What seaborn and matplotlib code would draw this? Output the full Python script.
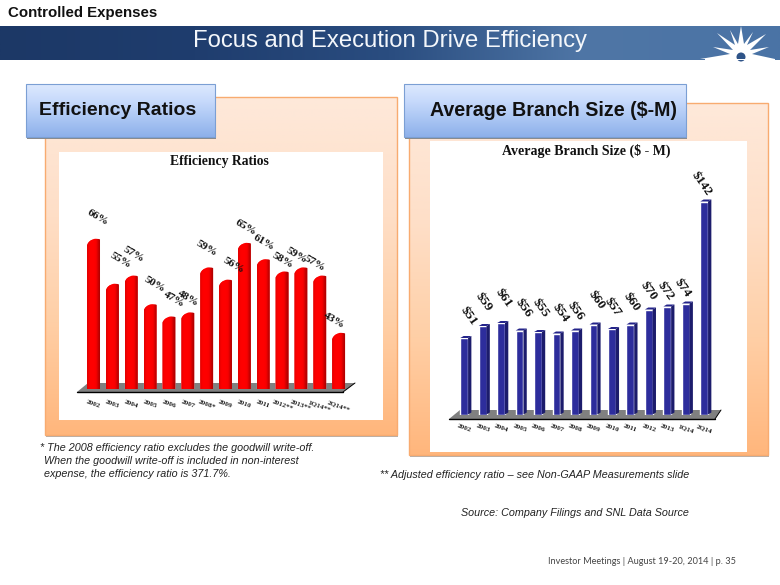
import numpy as np
import pandas as pd
import matplotlib
matplotlib.use("Agg")
import matplotlib.pyplot as plt
import seaborn as sns
from matplotlib.path import Path
from matplotlib.patches import Polygon, Rectangle, Circle

eff_years = ["2002", "2003", "2004", "2005", "2006", "2007", "2008*", "2009", "2010", "2011",
             "2012**", "2013**", "1Q14**", "2Q14**"]
eff_values = [66, 55, 57, 50, 47, 48, 59, 56, 65, 61, 58, 59, 57, 43]
branch_years = ["2002", "2003", "2004", "2005", "2006", "2007", "2008", "2009", "2010", "2011",
                "2012", "2013", "1Q14", "2Q14"]
branch_values = [51, 59, 61, 56, 55, 54, 56, 60, 57, 60, 70, 72, 74, 142]

# label nudges in pixels, relative to the top of each bar
eff_dx = [4, 8, 2, 5, 5, 0, 0, 8, 1, 1, 1, -4, -5, -5]
eff_dy = [21, 23, 21, 20, 17, 14, 19, 14, 15, 17, 11, 12, 12, 12]
br_dx = [4, 1, 2, 4, 3, 4, 1, 3, 1, 1, 0, -2, -3, -3]
br_dy = [22, 24, 25, 23, 24, 21, 20, 25, 22, 23, 19, 16, 16, 18]

W, H = 780, 585
sns.set_theme(style="white")
plt.rcParams["font.family"] = ["Liberation Sans", "DejaVu Sans"]
fig = plt.figure(figsize=(W / 100, H / 100), dpi=100, facecolor="white")

bg = fig.add_axes([0, 0, 1, 1], zorder=0)
bg.set_xlim(0, W)
bg.set_ylim(H, 0)
bg.axis("off")


def grad(ax, x0, y0, x1, y1, stops, horizontal=False, zorder=1):
    n = 200
    t = np.linspace(0, 1, n)
    cols = np.array([matplotlib.colors.to_rgb(c) for c in stops])
    pos = np.linspace(0, 1, len(stops))
    arr = np.stack([np.interp(t, pos, cols[:, k]) for k in range(3)], axis=-1)
    arr = arr[None, :, :] if horizontal else arr[:, None, :]
    ax.imshow(arr, extent=[x0, x1, y1, y0], aspect="auto", zorder=zorder, interpolation="bilinear")


# banner
grad(bg, 0, 26, W, 60, ["#1c3866", "#1f3d6e", "#2a4d80", "#4f76a6", "#4a73a5"], horizontal=True)
bg.add_patch(Polygon([(713, 47), (733, 50), (717, 33), (735, 45), (730, 30), (738, 44), (741, 26),
                      (744, 44), (753, 32), (747, 45), (766, 34), (750, 50), (769, 47), (752, 54),
                      (775, 59), (700, 59), (730, 54)], fc="white", ec="none", zorder=3))
bg.add_patch(Circle((741, 57), 4.5, fc="#2f5488", ec="none", zorder=4))
bg.add_patch(Rectangle((705, 58.5), 70, 1.5, fc="white", ec="none", zorder=4))
bg.text(390, 41.5, "Focus and Execution Drive Efficiency", color="#f4f7fb", fontsize=17.2, ha="center", va="center")
bg.text(8, 13.5, "Controlled Expenses", color="#111111", fontsize=10.8, weight="bold", ha="left", va="center")

# orange panels
panel = ["#fee9da", "#fedfc8", "#ffcfa6", "#ffb67c"]
bg.add_patch(Rectangle((46, 99), 352, 338, fc="#b0b0b0", ec="none", zorder=0.5))
grad(bg, 45, 97, 397, 435, panel)
bg.add_patch(Rectangle((45, 97), 352, 338, fc="none", ec="#f8ab70", lw=1, zorder=1.2))
bg.add_patch(Rectangle((59, 152), 324, 268, fc="white", ec="none", zorder=1.5))

bg.add_patch(Rectangle((410, 105), 359, 352, fc="#b0b0b0", ec="none", zorder=0.5))
grad(bg, 409, 103, 768, 455, panel)
bg.add_patch(Rectangle((409, 103), 359, 352, fc="none", ec="#f8ab70", lw=1, zorder=1.2))
bg.add_patch(Rectangle((430, 141), 317, 311, fc="white", ec="none", zorder=1.5))

# blue heading boxes
box = ["#dde9fe", "#c6d9fb", "#a9c5f3", "#8db0ea"]
for x0, x1, txt, tx, fs in [(26, 215, "Efficiency Ratios", 39, 14.0),
                            (404, 686, "Average Branch Size ($-M)", 430, 14.15)]:
    bg.add_patch(Rectangle((27, 85) if x0 == 26 else (405, 85), x1 - x0, 53.5, fc="#8a8a8a", ec="none", zorder=2))
    grad(bg, x0, 84, x1, 137, box, zorder=2.1)
    bg.add_patch(Rectangle((x0, 84), x1 - x0, 53, fc="none", ec="#7b9fd4", lw=0.8, zorder=2.2))
    bg.text(tx, 110.5, txt, color="#111111", fontsize=fs, weight="bold", ha="left", va="center", zorder=3)

# floors
for pts in [[(77, 392), (88, 383), (355, 383), (343, 392)], [(449, 419), (460, 410), (721, 410), (715, 419)]]:
    bg.add_patch(Polygon(pts, fc="#808080", ec="none", zorder=2))
    bg.plot([pts[0][0], pts[3][0]], [pts[0][1], pts[3][1]], color="black", lw=1, zorder=2.5)
    bg.plot([pts[3][0], pts[2][0]], [pts[3][1], pts[2][1]], color="black", lw=0.7, zorder=2.5)
bg.set_xlim(0, W)
bg.set_ylim(H, 0)

# footnotes
note = dict(color="#222222", fontsize=7.75, style="italic", ha="left", va="center")
bg.text(40, 448, "* The 2008 efficiency ratio excludes the goodwill write-off.", **note)
bg.text(44, 461, "When the goodwill write-off is included in non-interest", **note)
bg.text(44, 474, "expense, the efficiency ratio is 371.7%.", **note)
bg.text(380, 475, "** Adjusted efficiency ratio \u2013 see Non-GAAP Measurements slide", **note)
bg.text(461, 513.5, "Source: Company Filings and SNL Data Source", **note)
bg.text(548, 562, "Investor Meetings | August 19-20, 2014 | p. 35", color="#444444", fontsize=6.55,
        family="Lato", ha="left", va="center")

SERIF = ["Liberation Serif", "DejaVu Serif"]


def make_axes(x_first, spacing, y_base, y_top, v_base, px_per_unit):
    left = x_first - spacing / 2
    ax = fig.add_axes([left / W, (H - y_base) / H, 14 * spacing / W, (y_base - y_top) / H], zorder=2)
    ax.patch.set_alpha(0)
    for s in ax.spines.values():
        s.set_visible(False)
    return ax, (v_base, v_base + (y_base - y_top) / px_per_unit)


# ---- left chart: rounded cylinders
sp_l, ppu_l = 18.85, 4.09
axl, yl = make_axes(93.5, sp_l, 389, 152, 29.3, ppu_l)
df_l = pd.DataFrame({"year": eff_years, "ratio": eff_values})
sns.barplot(data=df_l, x="year", y="ratio", color="#ff0000", width=0.69, saturation=1, ax=axl)
axl.set_xlim(-0.5, 13.5)
axl.set_ylim(*yl)
stops = ["#e00000", "#fc0000", "#ff0000", "#ff0000", "#f60000", "#c40000", "#a00000"]
for bar in axl.patches:
    x0, x1, top = bar.get_x(), bar.get_x() + bar.get_width(), bar.get_height()
    py = 1 / ppu_l
    w = x1 - x0
    base = yl[0]
    verts = [(x0, base), (x0, top - 6 * py), (x0 + 0.15 * w, top - 1.5 * py), (x0 + 0.55 * w, top),
             (x0 + 0.8 * w, top + 0.5 * py), (x1, top - 0.5 * py), (x1, top - 3 * py),
             (x1, base), (x0 + 0.5 * w, base - 1.2 * py), (x0, base), (x0, base)]
    codes = [Path.MOVETO, Path.LINETO, Path.CURVE3, Path.CURVE3, Path.CURVE3, Path.CURVE3, Path.LINETO,
             Path.LINETO, Path.CURVE3, Path.CURVE3, Path.CLOSEPOLY]
    p = Path(verts, codes)
    bar.set_clip_path(p, axl.transData)
    cols = np.array([matplotlib.colors.to_rgb(c) for c in stops])
    t = np.linspace(0, 1, 60)
    arr = np.stack([np.interp(t, np.linspace(0, 1, len(stops)), cols[:, k]) for k in range(3)], axis=-1)[None]
    im = axl.imshow(arr, extent=[x0, x1, base - 2 * py, top + 1 * py], aspect="auto", zorder=3, interpolation="bilinear")
    im.set_clip_path(p, axl.transData)
axl.set_xlim(-0.5, 13.5)
axl.set_ylim(*yl)
for i, v in enumerate(eff_values):
    axl.annotate(f"{v}%", (i, v), xytext=(eff_dx[i] * 0.72, eff_dy[i] * 0.72), textcoords="offset points",
                 rotation=-30, ha="center", va="center", family=SERIF, weight="bold", fontsize=8.2,
                 color="#111111", zorder=5, rotation_mode="anchor")

# ---- right chart: square columns
sp_r, ppu_r = 18.46, 1.5
axr, yr = make_axes(464.2, sp_r, 414.5, 141, 0, ppu_r)
df_r = pd.DataFrame({"year": branch_years, "size": branch_values})
sns.barplot(data=df_r, x="year", y="size", color="#2d2d9c", width=0.42, saturation=1, ax=axr)
axr.set_xlim(-0.5, 13.5)
axr.set_ylim(*yr)
dx, dy = 3.3 / sp_r, 2 / ppu_r
for bar in axr.patches:
    x0, x1, top = bar.get_x(), bar.get_x() + bar.get_width(), bar.get_height()
    axr.add_patch(Polygon([(x1, 0), (x1 + dx, dy), (x1 + dx, top + dy), (x1, top)], fc="#1c1c6c", ec="none",
                          zorder=2, clip_on=False))
    axr.add_patch(Polygon([(x0, top), (x0 + dx, top + dy), (x1 + dx, top + dy), (x1, top)], fc="#24248a",
                          ec="none", zorder=2, clip_on=False))
for i, v in enumerate(branch_values):
    axr.annotate(f"${v}", (i, v), xytext=(br_dx[i] * 0.72, br_dy[i] * 0.72), textcoords="offset points",
                 rotation=-55, ha="center", va="center", family=SERIF, weight="bold", fontsize=9.6,
                 color="#111111", zorder=5, rotation_mode="anchor")

# ---- shared axis styling
for ax, pad, title, tx, ty, fs in [(axl, 7.5, "Efficiency Ratios", 0.512, 0.96, 9.8),
                                   (axr, 6.5, "Average Branch Size ($ - M)", 0.507, 0.963, 10)]:
    ax.set_xlabel("")
    ax.set_ylabel("")
    ax.set_yticks([])
    ax.tick_params(axis="x", length=0, pad=pad)
    for lab in ax.get_xticklabels():
        lab.set_rotation(-20)
        lab.set_family(SERIF)
        lab.set_fontweight("bold")
        lab.set_fontsize(5.2)
        lab.set_color("#222222")
        lab.set_ha("center")
    ax.text(tx, ty, title, transform=ax.transAxes, ha="center", va="center", family=SERIF, weight="bold",
            fontsize=fs, color="#111111", zorder=5)

fig.savefig("out.png", dpi=100, facecolor="white")
